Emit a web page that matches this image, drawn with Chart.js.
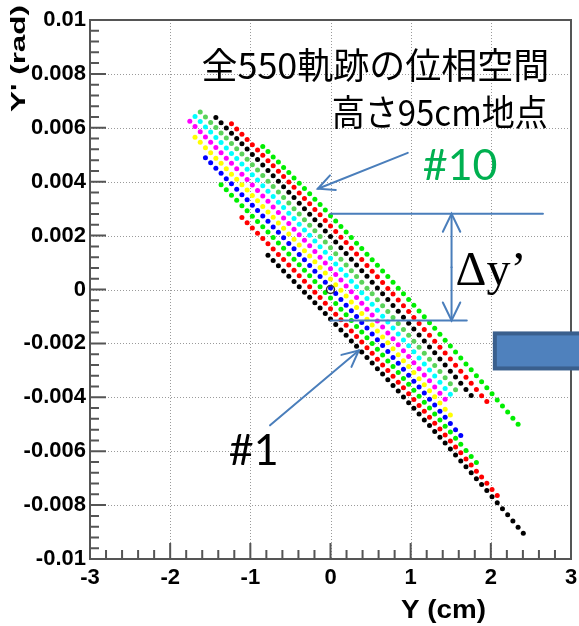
<!DOCTYPE html>
<html>
<head>
<meta charset="utf-8">
<script src="https://cdn.jsdelivr.net/npm/chart.js@4.4.0/dist/chart.umd.min.js"></script>
<style>
html, body { margin: 0; padding: 0; background: #fff; }
</style>
</head>
<body>
<canvas id="phase-chart" width="579" height="626"></canvas>
<script>
// x positions (cm) shared by all rows of points
var xColumns = [-1.755, -1.69, -1.625, -1.56, -1.495, -1.43, -1.365, -1.3, -1.235, -1.17,
    -1.105, -1.04, -0.975, -0.91, -0.845, -0.78, -0.715, -0.65, -0.585, -0.52,
    -0.455, -0.39, -0.325, -0.26, -0.195, -0.13, -0.065, 0, 0.065, 0.13,
    0.195, 0.26, 0.325, 0.39, 0.455, 0.52, 0.585, 0.65, 0.715, 0.78,
    0.845, 0.91, 0.975, 1.04, 1.105, 1.17, 1.235, 1.3, 1.365, 1.43,
    1.495, 1.56, 1.625, 1.69, 1.755, 1.82, 1.885, 1.95, 2.015, 2.08,
    2.145, 2.21, 2.275, 2.34, 2.405];

// first column of each row (bottom row first)
var rowStart = [15, 10, 6, 3, 1, 0, 1, 2, 5, 8, 14];
var rowColors = ['#000000', '#ff0000', '#00ee00', '#0000ff', '#ffff00', '#ff00ff', '#00ffff', '#5ad35a', '#000000', '#ff0000', '#00ee00'];

// Y' (rad) along each row
var yRow1 = [0.00127, 0.00108, 0.00088, 0.00069, 0.00049, 0.00030, 0.00010, -0.00010, -0.00029, -0.00049,
    -0.00069, -0.00089, -0.00109, -0.00130, -0.00150, -0.00170, -0.00191, -0.00211, -0.00232, -0.00252,
    -0.00273, -0.00294, -0.00314, -0.00335, -0.00356, -0.00377, -0.00399, -0.00420, -0.00441, -0.00462,
    -0.00484, -0.00505, -0.00527, -0.00548, -0.00570, -0.00592, -0.00614, -0.00636, -0.00658, -0.00680,
    -0.00702, -0.00724, -0.00746, -0.00769, -0.00791, -0.00814, -0.00836, -0.00859, -0.00882, -0.00904];
var yRow2 = [0.00267, 0.00248, 0.00228, 0.00209, 0.00189, 0.00170, 0.00150, 0.00130, 0.00111, 0.00091,
    0.00071, 0.00051, 0.00031, 0.00010, -0.00010, -0.00030, -0.00051, -0.00071, -0.00092, -0.00112,
    -0.00133, -0.00154, -0.00174, -0.00195, -0.00216, -0.00237, -0.00259, -0.00280, -0.00301, -0.00322,
    -0.00344, -0.00365, -0.00387, -0.00408, -0.00430, -0.00452, -0.00474, -0.00496, -0.00518, -0.00540,
    -0.00562, -0.00584, -0.00606, -0.00629, -0.00651, -0.00674, -0.00696, -0.00719, -0.00742, -0.00764];
var yRow3 = [0.00389, 0.00370, 0.00350, 0.00331, 0.00311, 0.00292, 0.00272, 0.00252, 0.00233, 0.00213,
    0.00193, 0.00173, 0.00153, 0.00132, 0.00112, 0.00092, 0.00071, 0.00051, 0.00030, 0.00010,
    -0.00011, -0.00032, -0.00052, -0.00073, -0.00094, -0.00115, -0.00137, -0.00158, -0.00179, -0.00200,
    -0.00222, -0.00243, -0.00265, -0.00286, -0.00308, -0.00330, -0.00352, -0.00374, -0.00396, -0.00418,
    -0.00440, -0.00462, -0.00484, -0.00507, -0.00529, -0.00552, -0.00574, -0.00597, -0.00620, -0.00642];
var yRow4 = [0.00489, 0.00470, 0.00450, 0.00431, 0.00411, 0.00392, 0.00372, 0.00352, 0.00333, 0.00313,
    0.00293, 0.00273, 0.00253, 0.00232, 0.00212, 0.00192, 0.00171, 0.00151, 0.00130, 0.00110,
    0.00089, 0.00068, 0.00048, 0.00027, 0.00006, -0.00015, -0.00037, -0.00058, -0.00079, -0.00100,
    -0.00122, -0.00143, -0.00165, -0.00186, -0.00208, -0.00230, -0.00252, -0.00274, -0.00296, -0.00318,
    -0.00340, -0.00362, -0.00384, -0.00407, -0.00429, -0.00452, -0.00474, -0.00497, -0.00520, -0.00542];
var yRow5 = [0.00565, 0.00546, 0.00526, 0.00507, 0.00487, 0.00468, 0.00448, 0.00428, 0.00409, 0.00389,
    0.00369, 0.00349, 0.00329, 0.00308, 0.00288, 0.00268, 0.00247, 0.00227, 0.00206, 0.00186,
    0.00165, 0.00144, 0.00124, 0.00103, 0.00082, 0.00061, 0.00039, 0.00018, -0.00003, -0.00024,
    -0.00046, -0.00067, -0.00089, -0.00110, -0.00132, -0.00154, -0.00176, -0.00198, -0.00220, -0.00242,
    -0.00264, -0.00286, -0.00308, -0.00331, -0.00353, -0.00376, -0.00398, -0.00421, -0.00444, -0.00466];
var yRow6 = [0.00624, 0.00605, 0.00585, 0.00566, 0.00546, 0.00527, 0.00507, 0.00487, 0.00468, 0.00448,
    0.00428, 0.00408, 0.00388, 0.00367, 0.00347, 0.00327, 0.00306, 0.00286, 0.00265, 0.00245,
    0.00224, 0.00203, 0.00183, 0.00162, 0.00141, 0.00120, 0.00098, 0.00077, 0.00056, 0.00035,
    0.00013, -0.00008, -0.00030, -0.00051, -0.00073, -0.00095, -0.00117, -0.00139, -0.00161, -0.00183,
    -0.00205, -0.00227, -0.00249, -0.00272, -0.00294, -0.00317, -0.00339, -0.00362, -0.00385, -0.00407];
var yRow7 = [0.00642, 0.00623, 0.00603, 0.00584, 0.00564, 0.00545, 0.00525, 0.00505, 0.00486, 0.00466,
    0.00446, 0.00426, 0.00406, 0.00385, 0.00365, 0.00345, 0.00324, 0.00304, 0.00283, 0.00263,
    0.00242, 0.00221, 0.00201, 0.00180, 0.00159, 0.00138, 0.00116, 0.00095, 0.00074, 0.00053,
    0.00031, 0.00010, -0.00012, -0.00033, -0.00055, -0.00077, -0.00099, -0.00121, -0.00143, -0.00165,
    -0.00187, -0.00209, -0.00231, -0.00254, -0.00276, -0.00299, -0.00321, -0.00344, -0.00367, -0.00389];
var yRow8 = [0.00659, 0.00640, 0.00620, 0.00601, 0.00581, 0.00562, 0.00542, 0.00522, 0.00503, 0.00483,
    0.00463, 0.00443, 0.00423, 0.00402, 0.00382, 0.00362, 0.00341, 0.00321, 0.00300, 0.00280,
    0.00259, 0.00238, 0.00218, 0.00197, 0.00176, 0.00155, 0.00133, 0.00112, 0.00091, 0.00070,
    0.00048, 0.00027, 0.00005, -0.00016, -0.00038, -0.00060, -0.00082, -0.00104, -0.00126, -0.00148,
    -0.00170, -0.00192, -0.00214, -0.00237, -0.00259, -0.00282, -0.00304, -0.00327, -0.00350, -0.00372];
var yRow9 = [0.00638, 0.00619, 0.00599, 0.00580, 0.00560, 0.00541, 0.00521, 0.00501, 0.00482, 0.00462,
    0.00442, 0.00422, 0.00402, 0.00381, 0.00361, 0.00341, 0.00320, 0.00300, 0.00279, 0.00259,
    0.00238, 0.00217, 0.00197, 0.00176, 0.00155, 0.00134, 0.00112, 0.00091, 0.00070, 0.00049,
    0.00027, 0.00006, -0.00016, -0.00037, -0.00059, -0.00081, -0.00103, -0.00125, -0.00147, -0.00169,
    -0.00191, -0.00213, -0.00235, -0.00258, -0.00280, -0.00303, -0.00325, -0.00348, -0.00371, -0.00393];
var yRow10 = [0.00615, 0.00596, 0.00576, 0.00557, 0.00537, 0.00518, 0.00498, 0.00478, 0.00459, 0.00439,
    0.00419, 0.00399, 0.00379, 0.00358, 0.00338, 0.00318, 0.00297, 0.00277, 0.00256, 0.00236,
    0.00215, 0.00194, 0.00174, 0.00153, 0.00132, 0.00111, 0.00089, 0.00068, 0.00047, 0.00026,
    0.00004, -0.00017, -0.00039, -0.00060, -0.00082, -0.00104, -0.00126, -0.00148, -0.00170, -0.00192,
    -0.00214, -0.00236, -0.00258, -0.00281, -0.00303, -0.00326, -0.00348, -0.00371, -0.00394, -0.00416];
var yRow11 = [0.00531, 0.00512, 0.00492, 0.00473, 0.00453, 0.00434, 0.00414, 0.00394, 0.00375, 0.00355,
    0.00335, 0.00315, 0.00295, 0.00274, 0.00254, 0.00234, 0.00213, 0.00193, 0.00172, 0.00152,
    0.00131, 0.00110, 0.00090, 0.00069, 0.00048, 0.00027, 0.00005, -0.00016, -0.00037, -0.00058,
    -0.00080, -0.00101, -0.00123, -0.00144, -0.00166, -0.00188, -0.00210, -0.00232, -0.00254, -0.00276,
    -0.00298, -0.00320, -0.00342, -0.00365, -0.00387, -0.00410, -0.00432, -0.00455, -0.00478, -0.00500];

var yRows = [yRow1, yRow2, yRow3, yRow4, yRow5, yRow6, yRow7, yRow8, yRow9, yRow10, yRow11];

var xTicks = [-3, -2, -1, 0, 1, 2, 3];
var yTicks = [-0.01, -0.008, -0.006, -0.004, -0.002, 0, 0.002, 0.004, 0.006, 0.008, 0.01];

var datasets = yRows.map(function(ys, k) {
    return {
        label: 'row ' + (k + 1),
        data: ys.map(function(y, j) { return {x: xColumns[rowStart[k] + j], y: y}; }),
        pointStyle: 'circle',
        pointRadius: 2.5,
        pointBorderWidth: 0,
        backgroundColor: rowColors[k],
        borderColor: rowColors[k]
    };
});
// small open circle at the origin
datasets.unshift({
    label: 'origin',
    data: [{x: 0, y: 0}],
    pointStyle: 'circle',
    pointRadius: 4,
    pointBorderWidth: 1.5,
    backgroundColor: 'rgba(0,0,0,0)',
    borderColor: '#333'
});

var axisFont = '"Liberation Sans", Arial, sans-serif';

function arrowLine(ctx, x1, y1, x2, y2, head) {
    ctx.beginPath(); ctx.moveTo(x1, y1); ctx.lineTo(x2, y2); ctx.stroke();
    var ang = Math.atan2(y2 - y1, x2 - x1);
    ctx.beginPath();
    ctx.moveTo(x2 - head * Math.cos(ang - 0.45), y2 - head * Math.sin(ang - 0.45));
    ctx.lineTo(x2, y2);
    ctx.lineTo(x2 - head * Math.cos(ang + 0.45), y2 - head * Math.sin(ang + 0.45));
    ctx.stroke();
}

function fitText(ctx, text, x, y, width) { // squeeze/stretch to the width seen in the picture
    var w = ctx.measureText(text).width;
    ctx.save();
    ctx.translate(x, y);
    ctx.scale(width / w, 1);
    ctx.fillText(text, 0, 0);
    ctx.restore();
}

var rootFrame = {
    id: 'rootFrame',
    beforeDatasetsDraw: function(chart) {
        var ctx = chart.ctx, a = chart.chartArea, sx = chart.scales.x, sy = chart.scales.y;
        ctx.save();
        ctx.strokeStyle = '#9a9a9a';
        ctx.lineWidth = 1;
        ctx.setLineDash([1, 2]);
        xTicks.slice(1, -1).forEach(function(v) {
            var px = Math.round(sx.getPixelForValue(v)) + 0.5;
            ctx.beginPath(); ctx.moveTo(px, a.top); ctx.lineTo(px, a.bottom); ctx.stroke();
        });
        yTicks.slice(1, -1).forEach(function(v) {
            var py = Math.round(sy.getPixelForValue(v)) + 0.5;
            ctx.beginPath(); ctx.moveTo(a.left, py); ctx.lineTo(a.right, py); ctx.stroke();
        });
        ctx.restore();
    },
    afterDatasetsDraw: function(chart) {
        var ctx = chart.ctx, a = chart.chartArea, sx = chart.scales.x, sy = chart.scales.y;
        var X = function(v) { return sx.getPixelForValue(v); };
        var Y = function(v) { return sy.getPixelForValue(v); };
        ctx.save();
        // frame
        ctx.strokeStyle = '#555';
        ctx.lineWidth = 2;
        ctx.strokeRect(a.left, a.top, a.right - a.left, a.bottom - a.top);
        // inside ticks, 5 minor divisions
        ctx.beginPath();
        for (var i = 0; i <= 30; i++) {
            var px = X(-3 + i * 0.2);
            var len = i % 5 === 0 ? 16 : 9;
            ctx.moveTo(px, a.bottom); ctx.lineTo(px, a.bottom - len);
        }
        for (var j = 0; j <= 50; j++) {
            var py = Y(-0.01 + j * 0.0004);
            var ylen = j % 5 === 0 ? 16 : 9;
            ctx.moveTo(a.left, py); ctx.lineTo(a.left + ylen, py);
        }
        ctx.stroke();

        // axis titles
        ctx.fillStyle = '#000';
        ctx.font = 'bold 25px ' + axisFont;
        ctx.textAlign = 'right';
        ctx.textBaseline = 'middle';
        fitText(ctx, 'Y (cm)', a.right - 85, a.bottom + 52, 85);
        ctx.save();
        ctx.translate(a.left - 71, a.top - 15);
        ctx.rotate(-Math.PI / 2);
        ctx.font = 'bold 21px ' + axisFont;
        ctx.textAlign = 'left';
        var tw = ctx.measureText("Y' (rad)").width;
        ctx.scale(107 / tw, 1);
        ctx.fillText("Y' (rad)", -tw, 0);
        ctx.restore();

        // japanese caption
        ctx.font = '36px "Noto Sans CJK JP", sans-serif';
        ctx.textAlign = 'right';
        ctx.fillText('全550軌跡の位相空間', X(2.73), Y(0.00833));
        ctx.textAlign = 'left';
        fitText(ctx, '高さ95cm地点', X(0.015), Y(0.00659), 216);

        // labels for the first and last row
        ctx.font = '43px Lato, "Open Sans", sans-serif';
        ctx.fillStyle = '#00b050';
        ctx.fillText('#10', X(1.15), Y(0.00459));
        ctx.fillStyle = '#000';
        ctx.fillText('#1', X(-1.27), Y(-0.006));
        ctx.font = '48px "Liberation Serif", serif';
        ctx.textBaseline = 'alphabetic';
        ctx.fillText('\u0394y\u2019', X(1.56), Y(0.00015));

        // blue annotation lines and arrows
        ctx.strokeStyle = '#4a7ebb';
        ctx.lineWidth = 2;
        ctx.lineCap = 'round';
        arrowLine(ctx, X(0.964), Y(0.00507), X(-0.158), Y(0.00374), 18);
        arrowLine(ctx, X(-0.754), Y(-0.00504), X(0.353), Y(-0.00226), 18);
        ctx.beginPath();
        ctx.moveTo(X(0), Y(0.00281)); ctx.lineTo(X(2.65), Y(0.00281));
        ctx.moveTo(X(0), Y(-0.00115)); ctx.lineTo(X(1.7), Y(-0.00115));
        ctx.stroke();
        var mid = Y(0.00083);
        arrowLine(ctx, X(1.51), mid, X(1.51), Y(0.00281), 20);
        arrowLine(ctx, X(1.51), mid, X(1.51), Y(-0.00115), 20);

        // block arrow stub at the right edge
        var rx = X(2.05), ry = Y(-0.00163);
        ctx.fillStyle = '#4f81bd';
        ctx.strokeStyle = '#3a5f8d';
        ctx.lineWidth = 4;
        ctx.fillRect(rx, ry, chart.width - rx + 10, Y(-0.00293) - ry);
        ctx.strokeRect(rx, ry, chart.width - rx + 10, Y(-0.00293) - ry);
        ctx.restore();
    }
};

new Chart(document.getElementById('phase-chart'), {
    type: 'scatter',
    data: {datasets: datasets},
    options: {
        responsive: false,
        animation: false,
        events: [],
        layout: {padding: {left: 0, top: 20, right: 8, bottom: 0}},
        plugins: {legend: {display: false}, tooltip: {enabled: false}},
        scales: {
            x: {
                type: 'linear', min: -3, max: 3,
                afterBuildTicks: function(s) { s.ticks = xTicks.map(function(v) { return {value: v}; }); },
                afterFit: function(s) { s.height = 67; s.paddingLeft = 0; s.paddingRight = 0; },
                grid: {display: false, drawTicks: false},
                border: {display: false},
                ticks: {
                    color: '#000', padding: 6, maxRotation: 0,
                    font: {family: axisFont, size: 22, weight: 'bold'},
                    callback: function(v) { return String(v); }
                }
            },
            y: {
                type: 'linear', min: -0.01, max: 0.01,
                afterBuildTicks: function(s) { s.ticks = yTicks.map(function(v) { return {value: v}; }); },
                afterFit: function(s) { s.width = 90; },
                grid: {display: false, drawTicks: false},
                border: {display: false},
                ticks: {
                    color: '#000', padding: 4,
                    font: {family: axisFont, size: 22, weight: 'bold'},
                    callback: function(v) { return String(Math.round(v * 1000) / 1000); }
                }
            }
        }
    },
    plugins: [rootFrame]
});
</script>
</body>
</html>
